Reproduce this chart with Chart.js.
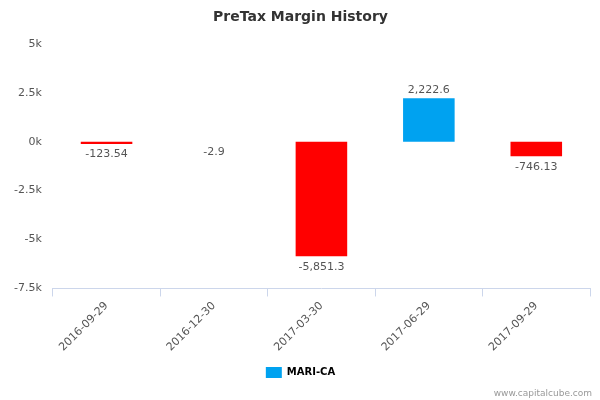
<!DOCTYPE html><html><head><script src="https://cdn.jsdelivr.net/npm/chart.js@4"></script>
<style>body{margin:0;background:#fff}#w{width:600px;height:400px;position:relative}</style></head><body><div id="w"><canvas id="c"></canvas></div>
<script>
const categories=["2016-09-29","2016-12-30","2017-03-30","2017-06-29","2017-09-29"];
const values=[-123.54,-2.9,-5851.3,2222.6,-746.13];
const labels=["-123.54","-2.9","-5,851.3","2,222.6","-746.13"];
const yTicks=[-7500,-5000,-2500,0,2500,5000];
const tickText={"-7500":"-7.5k","-5000":"-5k","-2500":"-2.5k","0":"0k","2500":"2.5k","5000":"5k"};
const lbl={id:'lbl',afterDatasetsDraw(ch){const c=ch.ctx;const m=ch.getDatasetMeta(0);c.save();c.font='11px "DejaVu Sans"';c.fillStyle='#555';c.textAlign='center';
m.data.forEach((b,i)=>{const v=values[i];if(v>=0){c.textBaseline='bottom';c.fillText(labels[i],b.x,b.y-3);}else{c.textBaseline='top';c.fillText(labels[i],b.x,Math.max(b.y,b.base)+5);}});
c.fillStyle='#999';c.font='9px "DejaVu Sans"';c.textAlign='right';c.textBaseline='alphabetic';c.fillText('www.capitalcube.com',592,396);c.restore();}};
new Chart(document.getElementById('c'),{type:'bar',data:{labels:categories,datasets:[{label:'MARI-CA',data:values,
backgroundColor:values.map(v=>v>=0?'#00a2f0':'#ff0000'),barPercentage:0.48,categoryPercentage:1}]},
options:{responsive:true,maintainAspectRatio:false,animation:false,layout:{padding:{left:11,right:10,top:1,bottom:12}},
plugins:{title:{display:true,text:'PreTax Margin History',color:'#333',font:{family:'DejaVu Sans',size:14,weight:'bold'},padding:{top:8,bottom:18}},
legend:{position:'bottom',labels:{boxWidth:16,boxHeight:11,color:'#333',font:{family:'DejaVu Sans',size:10,weight:'bold'},generateLabels:()=>[{text:'MARI-CA',fillStyle:'#00a2f0',strokeStyle:'#00a2f0',lineWidth:0}]}},tooltip:{enabled:false}},
scales:{x:{grid:{display:true,drawOnChartArea:false,offset:true,color:'#ccd6eb',tickLength:8},border:{color:'#ccd6eb'},ticks:{color:'#555',font:{family:'DejaVu Sans',size:11},maxRotation:45,minRotation:45}},
y:{min:-7500,max:5000,afterBuildTicks:a=>{a.ticks=yTicks.map(v=>({value:v}))},grid:{display:false},border:{display:false},ticks:{color:'#555',font:{family:'DejaVu Sans',size:11},callback:v=>tickText[v]}}}},plugins:[lbl]});
</script></body></html>
